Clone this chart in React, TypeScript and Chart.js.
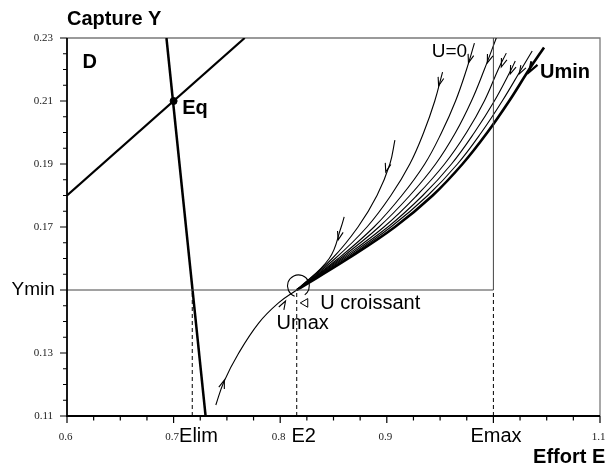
import React, { useEffect, useRef } from 'react';
import { Chart, registerables } from 'chart.js';

Chart.register(...registerables);

// ---- axis ranges ----
const X_LIMITS = [0.6, 1.1];
const Y_LIMITS = [0.11, 0.23];

// ---- reference values ----
const E_LIM = 0.7175;
const E_2 = 0.8155;
const E_MAX = 1.0;
const Y_MIN = 0.15;

// ---- ticks ----
const xTickValues = [0.6, 0.7, 0.8, 0.9, 1.0, 1.1];
const xTickLabels = ['0.6', '0.7', '0.8', '0.9', '', '1.1'];
const xMinorTicks = [0.625, 0.65, 0.675, 0.725, 0.75, 0.775, 0.825, 0.85, 0.875, 0.925, 0.95, 0.975, 1.025, 1.05, 1.075];
const yTickValues = [0.11, 0.13, 0.15, 0.17, 0.19, 0.21, 0.23];
const yTickLabels = ['0.11', '0.13', '', '0.17', '0.19', '0.21', '0.23'];
const yMinorTicks = [0.115, 0.12, 0.125, 0.135, 0.14, 0.145, 0.155, 0.16, 0.165, 0.175, 0.18, 0.185, 0.195, 0.2, 0.205, 0.215, 0.22, 0.225];

// ---- straight lines ----
const dLineX = [0.6, 0.7667];
const dLineY = [0.18, 0.23];
const steepX = [0.6933, 0.73];
const steepY = [0.23, 0.11];
const eqX = [0.7];
const eqY = [0.21];

// ---- trajectories (all start at the E2 / Ymin point) ----
const curveAX = [E_2, 0.846, 0.8572, 0.86];
const curveAY = [0.15, 0.16, 0.17, 0.1732];
const curveBX = [E_2, 0.8488, 0.873, 0.8908, 0.9029, 0.9076];
const curveBY = [0.15, 0.16, 0.17, 0.18, 0.19, 0.1976];
const curveCX = [E_2, 0.8516, 0.8814, 0.9038, 0.9216, 0.9346, 0.945, 0.9523];
const curveCY = [0.15, 0.16, 0.17, 0.18, 0.19, 0.2, 0.21, 0.2192];
const curveU0X = [E_2, 0.8544, 0.888, 0.9141, 0.9356, 0.9514, 0.9645, 0.9748, 0.9822];
const curveU0Y = [0.15, 0.16, 0.17, 0.18, 0.19, 0.2, 0.21, 0.22, 0.2284];
const curveEX = [E_2, 0.8563, 0.8926, 0.9216, 0.9458, 0.9645, 0.9794, 0.9915, 1.0027];
const curveEY = [0.15, 0.16, 0.17, 0.18, 0.19, 0.2, 0.21, 0.22, 0.23];
const curveFX = [E_2, 0.8582, 0.8973, 0.9281, 0.9542, 0.9748, 0.9915, 1.0045, 1.0121];
const curveFY = [0.15, 0.16, 0.17, 0.18, 0.19, 0.2, 0.21, 0.22, 0.2252];
const curveGX = [E_2, 0.86, 0.901, 0.9337, 0.9607, 0.9822, 1.0009, 1.0167, 1.0205];
const curveGY = [0.15, 0.16, 0.17, 0.18, 0.19, 0.2, 0.21, 0.22, 0.2227];
const curveHX = [E_2, 0.8619, 0.9038, 0.9384, 0.9663, 0.9887, 1.0083, 1.026, 1.0364];
const curveHY = [0.15, 0.16, 0.17, 0.18, 0.19, 0.2, 0.21, 0.22, 0.2259];
const uminX = [E_2, 0.8638, 0.9076, 0.943, 0.971, 0.9943, 1.0148, 1.0335, 1.0475];
const uminY = [0.15, 0.16, 0.17, 0.18, 0.19, 0.2, 0.21, 0.22, 0.227];
const umaxX = [0.7396, 0.7471, 0.7611, 0.7798, 0.7984, E_2];
const umaxY = [0.1135, 0.1208, 0.13, 0.1395, 0.1459, 0.15];

// ---- arrow heads (tail -> tip along a trajectory) ----
const arrowTailX = [0.86, 0.9076, 0.9523, 0.9822, 1.0027, 1.0121, 1.0205, 1.0364, 1.0475, 0.7396, 0.8003];
const arrowTailY = [0.1732, 0.1976, 0.2192, 0.2284, 0.23, 0.2252, 0.2227, 0.2259, 0.2271, 0.1135, 0.1437];
const arrowTipX = [0.8544, 0.899, 0.9486, 0.9766, 0.9943, 1.0074, 1.0158, 1.0242, 1.0335, 0.7476, 0.805];
const arrowTipY = [0.1659, 0.1875, 0.2148, 0.2221, 0.2221, 0.2208, 0.2186, 0.2186, 0.2192, 0.1214, 0.1465];
const arrowBold = [false, false, false, false, false, false, false, false, true, false, false];

// ---- rotation marker ----
const circleX = 0.8171;
const circleY = 0.1513;
const hollowArrowX = [0.8235];
const hollowArrowY = [0.1459];

// ---- text annotations ----
const noteTexts = ['D', 'Eq', 'Umin', 'U=0', 'U croissant', 'Umax', 'Capture Y', 'Effort E', 'Elim', 'E2', 'Emax', 'Ymin'];
const noteX = [0.6146, 0.708, 1.0437, 0.9421, 0.8375, 0.7966, 0.6, 1.0372, 0.7051, 0.8106, 0.9785, 0.5885];
const noteY = [0.2205, 0.2059, 0.2173, 0.224, 0.144, 0.1376, 0.2341, 0.0952, 0.1016, 0.1016, 0.1016, 0.1484];
const noteBold = [true, true, true, false, false, false, true, true, false, false, false, false];
const noteSize = [20, 20, 20, 19, 20, 20, 20, 20, 20, 20, 20, 19];
const noteAlign = ['left', 'left', 'left', 'left', 'left', 'left', 'left', 'left', 'left', 'left', 'left', 'right'];

const SANS = "'Liberation Sans', Arial, Helvetica, sans-serif";
const SERIF = "'Liberation Serif', 'Times New Roman', serif";

const pts = (xs: number[], ys: number[]) => xs.map((x, i) => ({ x, y: ys[i] }));

const curveDs = (xs: number[], ys: number[], width = 1.1) => ({
  data: pts(xs, ys),
  showLine: true,
  borderColor: '#000',
  borderWidth: width,
  pointRadius: 0,
  fill: false,
  tension: 0.4,
});

const lineDs = (xs: number[], ys: number[], width: number, color = '#000', dash: number[] = []) => ({
  data: pts(xs, ys),
  showLine: true,
  borderColor: color,
  borderWidth: width,
  borderDash: dash,
  pointRadius: 0,
  fill: false,
  tension: 0,
});

function drawArrow(ctx: CanvasRenderingContext2D, x0: number, y0: number, x1: number, y1: number, len: number, lw: number) {
  const ang = Math.atan2(y1 - y0, x1 - x0);
  const spread = 0.33;
  ctx.lineWidth = lw;
  ctx.beginPath();
  ctx.moveTo(x1 + len * Math.cos(ang + Math.PI - spread), y1 + len * Math.sin(ang + Math.PI - spread));
  ctx.lineTo(x1, y1);
  ctx.lineTo(x1 + len * Math.cos(ang + Math.PI + spread), y1 + len * Math.sin(ang + Math.PI + spread));
  ctx.stroke();
}

const overlayPlugin = {
  id: 'overlay',
  beforeDatasetsDraw(chart: any) {
    const { ctx, scales } = chart;
    const xs = scales.x;
    const ys = scales.y;
    ctx.save();
    ctx.strokeStyle = '#7a7a7a';
    ctx.lineWidth = 1.3;
    ctx.beginPath();
    ctx.moveTo(xs.getPixelForValue(X_LIMITS[0]), ys.getPixelForValue(Y_LIMITS[1]));
    ctx.lineTo(xs.getPixelForValue(X_LIMITS[1]), ys.getPixelForValue(Y_LIMITS[1]));
    ctx.lineTo(xs.getPixelForValue(X_LIMITS[1]), ys.getPixelForValue(Y_LIMITS[0]));
    ctx.stroke();
    ctx.restore();
  },
  afterDatasetsDraw(chart: any) {
    const { ctx, scales } = chart;
    const xs = scales.x;
    const ys = scales.y;
    const left = xs.getPixelForValue(X_LIMITS[0]);
    const right = xs.getPixelForValue(X_LIMITS[1]);
    const top = ys.getPixelForValue(Y_LIMITS[1]);
    const bottom = ys.getPixelForValue(Y_LIMITS[0]);
    ctx.save();
    ctx.strokeStyle = '#000';
    ctx.lineWidth = 1.8;
    ctx.beginPath();
    ctx.moveTo(left, top);
    ctx.lineTo(left, bottom);
    ctx.lineTo(right, bottom);
    ctx.stroke();
    ctx.lineWidth = 1.2;
    ctx.beginPath();
    xTickValues.forEach((v) => {
      const px = xs.getPixelForValue(v);
      ctx.moveTo(px, bottom);
      ctx.lineTo(px, bottom + 7);
    });
    xMinorTicks.forEach((v) => {
      const px = xs.getPixelForValue(v);
      ctx.moveTo(px, bottom);
      ctx.lineTo(px, bottom + 4.5);
    });
    yTickValues.forEach((v) => {
      const py = ys.getPixelForValue(v);
      ctx.moveTo(left, py);
      ctx.lineTo(left - 7, py);
    });
    yMinorTicks.forEach((v) => {
      const py = ys.getPixelForValue(v);
      ctx.moveTo(left, py);
      ctx.lineTo(left - 4, py);
    });
    ctx.stroke();
    ctx.fillStyle = '#222';
    ctx.font = `11px ${SERIF}`;
    ctx.textAlign = 'center';
    ctx.textBaseline = 'alphabetic';
    xTickValues.forEach((v, i) => {
      if (!xTickLabels[i]) return;
      ctx.fillText(xTickLabels[i], xs.getPixelForValue(v) - 1.5, bottom + 24);
    });
    ctx.textAlign = 'right';
    ctx.textBaseline = 'middle';
    yTickValues.forEach((v, i) => {
      if (!yTickLabels[i]) return;
      ctx.fillText(yTickLabels[i], left - 14, ys.getPixelForValue(v));
    });
    ctx.strokeStyle = '#000';
    arrowTipX.forEach((tx, i) => {
      const x0 = xs.getPixelForValue(arrowTailX[i]);
      const y0 = ys.getPixelForValue(arrowTailY[i]);
      const x1 = xs.getPixelForValue(tx);
      const y1 = ys.getPixelForValue(arrowTipY[i]);
      drawArrow(ctx, x0, y0, x1, y1, arrowBold[i] ? 11 : 9, arrowBold[i] ? 2.2 : 1.1);
    });
    ctx.lineWidth = 1.1;
    ctx.beginPath();
    ctx.arc(xs.getPixelForValue(circleX), ys.getPixelForValue(circleY), 11, (110 * Math.PI) / 180, (415 * Math.PI) / 180);
    ctx.stroke();
    ctx.fillStyle = '#000';
    ctx.textBaseline = 'alphabetic';
    noteTexts.forEach((t, i) => {
      ctx.font = `${noteBold[i] ? 'bold ' : ''}${noteSize[i]}px ${SANS}`;
      ctx.textAlign = noteAlign[i] as CanvasTextAlign;
      ctx.fillText(t, xs.getPixelForValue(noteX[i]), ys.getPixelForValue(noteY[i]));
    });
    ctx.restore();
  },
};

export default function App() {
  const canvasRef = useRef<HTMLCanvasElement | null>(null);

  useEffect(() => {
    if (!canvasRef.current) return;
    const chart = new Chart(canvasRef.current, {
      type: 'scatter',
      data: {
        datasets: [
          lineDs([X_LIMITS[0], E_MAX], [Y_MIN, Y_MIN], 1, '#444'),
          lineDs([E_MAX, E_MAX], [Y_MIN, Y_LIMITS[1]], 1, '#444'),
          lineDs([E_LIM, E_LIM], [Y_LIMITS[0], Y_MIN], 1, '#000', [4, 3]),
          lineDs([E_2, E_2], [Y_LIMITS[0], Y_MIN], 1, '#000', [4, 3]),
          lineDs([E_MAX, E_MAX], [Y_LIMITS[0], Y_MIN], 1, '#000', [4, 3]),
          lineDs(dLineX, dLineY, 2.2),
          lineDs(steepX, steepY, 2.5),
          curveDs(curveAX, curveAY),
          curveDs(curveBX, curveBY),
          curveDs(curveCX, curveCY),
          curveDs(curveU0X, curveU0Y),
          curveDs(curveEX, curveEY),
          curveDs(curveFX, curveFY),
          curveDs(curveGX, curveGY),
          curveDs(curveHX, curveHY),
          curveDs(uminX, uminY, 2.6),
          curveDs(umaxX, umaxY),
          {
            data: pts(eqX, eqY),
            showLine: false,
            pointRadius: 3.5,
            backgroundColor: '#000',
            borderColor: '#000',
          },
          {
            data: pts(hollowArrowX, hollowArrowY),
            showLine: false,
            pointStyle: 'triangle',
            rotation: -90,
            pointRadius: 5,
            backgroundColor: '#fff',
            borderColor: '#000',
            borderWidth: 1,
          },
        ] as any,
      },
      options: {
        animation: false,
        responsive: false,
        layout: { padding: { left: 67, top: 38, right: 3, bottom: 51 } },
        plugins: { legend: { display: false }, tooltip: { enabled: false } },
        events: [],
        scales: {
          x: { type: 'linear', min: X_LIMITS[0], max: X_LIMITS[1], display: false },
          y: { type: 'linear', min: Y_LIMITS[0], max: Y_LIMITS[1], display: false },
        },
      },
      plugins: [overlayPlugin],
    });
    return () => chart.destroy();
  }, []);

  return (
    <div style={{ position: 'absolute', left: 0, top: 0, width: 606, height: 467, background: '#fff' }}>
      <canvas ref={canvasRef} width={606} height={467} style={{ display: 'block' }} />
    </div>
  );
}
